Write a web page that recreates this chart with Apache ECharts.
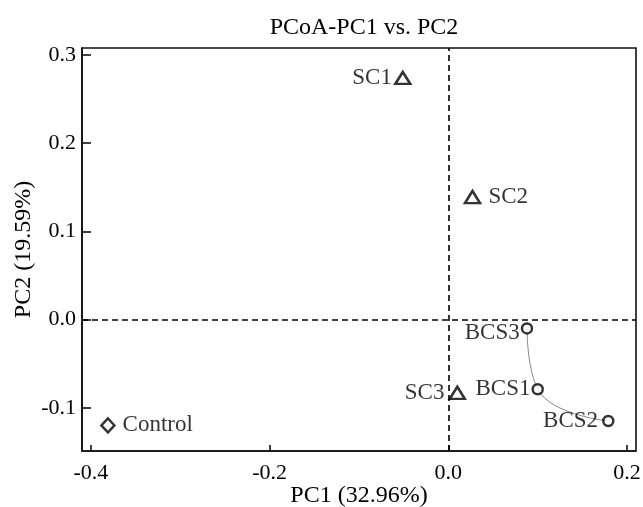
<!DOCTYPE html>
<html>
<head>
<meta charset="utf-8">
<script src="https://cdn.jsdelivr.net/npm/echarts@6/dist/echarts.min.js"></script>
<style>
html,body{margin:0;padding:0;background:#fff;}
#chart{width:643px;height:507px;}
</style>
</head>
<body>
<div id="chart"></div>
<script>
// ---- data ----
const titleText = 'PCoA-PC1 vs. PC2';
const xName = 'PC1 (32.96%)';
const yName = 'PC2 (19.59%)';
const xTicks = [-0.4, -0.2, 0.0, 0.2];
const yTicks = [-0.1, 0.0, 0.1, 0.2, 0.3];
const xRange = [-0.41, 0.21];
const yRange = [-0.149, 0.308];

const scNames = ['SC1', 'SC2', 'SC3'];
const scX = [-0.051, 0.027, 0.010];
const scY = [0.274, 0.139, -0.083];

const bcsNames = ['BCS3', 'BCS1', 'BCS2'];
const bcsX = [0.088, 0.100, 0.179];
const bcsY = [-0.010, -0.079, -0.115];

const ctrlNames = ['Control'];
const ctrlX = [-0.381];
const ctrlY = [-0.120];

const zeroLine = 0;

// ---- styles ----
const FONT = 'Liberation Serif';
const labelStyles = {
  SC1: {position: 'left', distance: 2},
  SC2: {position: 'right', distance: 7},
  SC3: {position: 'left', distance: 4},
  BCS3: {position: 'left', distance: 1, offset: [0, 5]},
  BCS1: {position: 'left', distance: 1},
  BCS2: {position: 'left', distance: 4},
  Control: {position: 'right', distance: 7}
};

function build(names, xs, ys) {
  return names.map((n, i) => ({
    name: n,
    value: [xs[i], ys[i]],
    label: Object.assign({show: true, formatter: n, color: '#000', fontFamily: FONT, fontSize: 23}, labelStyles[n])
  }));
}

const baseLabel = {show: true, color: '#000', fontFamily: FONT, fontSize: 23};
const markerStyle = {color: '#fff', borderColor: '#000', borderWidth: 2.5};

const chart = echarts.init(document.getElementById('chart'), null, {renderer: 'canvas'});
chart.setOption({
  backgroundColor: '#fff',
  animation: false,
  title: {
    text: titleText,
    left: 359, top: 11, textAlign: 'center',
    textStyle: {fontFamily: FONT, fontSize: 24, fontWeight: 'normal', color: '#000'}
  },
  grid: {
    left: 82, right: 7, top: 48, bottom: 56,
    containLabel: false, outerBoundsMode: 'none',
    show: true, borderColor: '#111', borderWidth: 1.6, backgroundColor: 'transparent'
  },
  xAxis: {
    type: 'value', min: xRange[0], max: xRange[1],
    name: xName, nameLocation: 'middle', nameGap: 33, nameMoveOverlap: false,
    nameTextStyle: {fontFamily: FONT, fontSize: 24, color: '#000'},
    axisLine: {show: true, onZero: false, lineStyle: {color: '#111', width: 1.6}},
    axisTick: {show: true, inside: true, length: 6, customValues: xTicks, lineStyle: {color: '#111', width: 1.6}},
    axisLabel: {show: true, margin: 11, customValues: xTicks, fontFamily: FONT, fontSize: 22, color: '#000',
      formatter: v => v.toFixed(1)},
    splitLine: {show: false}
  },
  yAxis: {
    type: 'value', min: yRange[0], max: yRange[1],
    name: yName, nameLocation: 'middle', nameGap: 46, nameRotate: 90, nameMoveOverlap: false,
    nameTextStyle: {fontFamily: FONT, fontSize: 24, color: '#000'},
    axisLine: {show: true, onZero: false, lineStyle: {color: '#111', width: 1.6}},
    axisTick: {show: true, inside: true, length: 9, customValues: yTicks, lineStyle: {color: '#111', width: 1.6}},
    axisLabel: {show: true, margin: 6, customValues: yTicks, fontFamily: FONT, fontSize: 22, color: '#000',
      formatter: v => v.toFixed(1)},
    splitLine: {show: false}
  },
  series: [
    {
      type: 'line', name: 'curve', smooth: 0.5, symbol: 'none', silent: true,
      data: bcsX.map((x, i) => [x, bcsY[i]]),
      lineStyle: {color: '#8a8a8a', width: 1},
      z: 1,
      markLine: {
        silent: true, symbol: 'none', label: {show: false},
        lineStyle: {color: '#000', width: 1.6, type: [6, 4]},
        data: [{xAxis: zeroLine}, {yAxis: zeroLine}]
      }
    },
    {
      type: 'scatter', name: 'SC', symbol: 'triangle', symbolSize: [15, 12],
      itemStyle: markerStyle, label: baseLabel, z: 3,
      data: build(scNames, scX, scY)
    },
    {
      type: 'scatter', name: 'BCS', symbol: 'circle', symbolSize: 10,
      itemStyle: markerStyle, label: baseLabel, z: 3,
      data: build(bcsNames, bcsX, bcsY)
    },
    {
      type: 'scatter', name: 'Control', symbol: 'diamond', symbolSize: [13, 14],
      itemStyle: markerStyle, label: baseLabel, z: 3,
      data: build(ctrlNames, ctrlX, ctrlY)
    }
  ]
});
</script>
</body>
</html>
